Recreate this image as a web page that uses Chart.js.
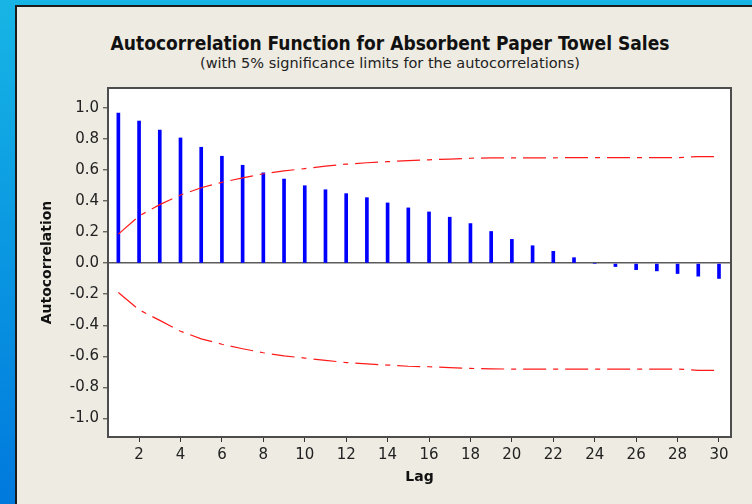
<!DOCTYPE html>
<html>
<head>
<meta charset="utf-8">
<title>Autocorrelation Function for Absorbent Paper Towel Sales</title>
<script src="https://cdn.jsdelivr.net/npm/chart.js@4.4.1/dist/chart.umd.min.js"></script>
<style>
  html, body { margin: 0; padding: 0; }
  #wrap {
    position: relative; width: 752px; height: 504px; overflow: hidden;
    background: linear-gradient(180deg, #17b5e5 0%, #0b9ae2 45%, #0079dd 100%);
  }
  #panel {
    position: absolute; left: 15px; top: 5px; right: 0; bottom: 0;
    background: #eeebe2; border-left: 2px solid #1c1c1c; border-top: 2px solid #1c1c1c;
  }
  .ttl {
    position: absolute; left: 0; width: 780px; text-align: center; color: #111;
    white-space: nowrap;
  }
  #title {
    top: 31px; font-size: 19px; line-height: 24px; font-weight: bold;
    font-family: "DejaVu Sans Condensed", "DejaVu Sans", sans-serif;
  }
  #subtitle {
    top: 55px; font-size: 14.5px; line-height: 17px; color: #222;
    font-family: "DejaVu Sans", sans-serif;
  }
  #c { position: absolute; left: 0; top: 0; }
</style>
</head>
<body>
<div id="wrap">
  <div id="panel"></div>
  <div id="title" class="ttl">Autocorrelation Function for Absorbent Paper Towel Sales</div>
  <div id="subtitle" class="ttl">(with 5% significance limits for the autocorrelations)</div>
  <canvas id="c" width="752" height="504"></canvas>
</div>
<script>
// lags and autocorrelations
const lags = [1, 2, 3, 4, 5, 6, 7, 8, 9, 10, 11, 12, 13, 14, 15,
              16, 17, 18, 19, 20, 21, 22, 23, 24, 25, 26, 27, 28, 29, 30];
const acf = [0.968, 0.917, 0.859, 0.808, 0.748, 0.690, 0.632, 0.583, 0.543, 0.500,
             0.474, 0.449, 0.423, 0.389, 0.357, 0.331, 0.297, 0.256, 0.205, 0.154,
             0.113, 0.077, 0.036, 0.000, -0.021, -0.041, -0.049, -0.066, -0.083, -0.098];
// 5% significance limits
const upperLimit = [0.188, 0.305, 0.378, 0.440, 0.487, 0.522, 0.551, 0.577, 0.596, 0.610,
                    0.626, 0.639, 0.648, 0.655, 0.662, 0.667, 0.672, 0.677, 0.679, 0.680,
                    0.680, 0.680, 0.681, 0.681, 0.681, 0.681, 0.681, 0.681, 0.688, 0.688];
const lowerLimit = [-0.188, -0.300, -0.368, -0.438, -0.487, -0.522, -0.551, -0.577, -0.597, -0.611,
                    -0.626, -0.640, -0.649, -0.656, -0.664, -0.667, -0.673, -0.678, -0.681, -0.682,
                    -0.682, -0.682, -0.682, -0.682, -0.682, -0.682, -0.682, -0.682, -0.690, -0.690];
const xTicks = [2, 4, 6, 8, 10, 12, 14, 16, 18, 20, 22, 24, 26, 28, 30];
const yTicks = [-1.0, -0.8, -0.6, -0.4, -0.2, 0.0, 0.2, 0.4, 0.6, 0.8, 1.0];

const tickFont = { family: "DejaVu Sans", size: 15 };
const axisFont = { family: "DejaVu Sans", size: 14, weight: "bold" };

// white plot area + dark frame round it
const plotFrame = {
  id: "plotFrame",
  beforeDraw(chart) {
    const a = chart.chartArea, ctx = chart.ctx;
    ctx.save();
    ctx.fillStyle = "#ffffff";
    ctx.fillRect(a.left, a.top, a.right - a.left, a.bottom - a.top);
    ctx.restore();
  },
  afterDraw(chart) {
    const a = chart.chartArea, ctx = chart.ctx;
    ctx.save();
    ctx.strokeStyle = "#4d4d4d";
    ctx.lineWidth = 2;
    ctx.strokeRect(a.left, a.top, a.right - a.left, a.bottom - a.top);
    ctx.restore();
  }
};

const limitStyle = {
  type: "line",
  borderColor: "#ff1a1a",
  borderWidth: 1.2,
  borderDash: [23, 7, 5, 7],
  pointRadius: 0,
  fill: false,
  tension: 0
};

new Chart(document.getElementById("c"), {
  type: "bar",
  data: {
    datasets: [
      Object.assign({ label: "Upper limit", data: lags.map((l, i) => ({ x: l, y: upperLimit[i] })) }, limitStyle),
      Object.assign({ label: "Lower limit", data: lags.map((l, i) => ({ x: l, y: lowerLimit[i] })) }, limitStyle),
      {
        label: "Autocorrelation",
        data: lags.map((l, i) => ({ x: l, y: acf[i] })),
        backgroundColor: "#0000ff",
        borderWidth: 0,
        barThickness: 3
      }
    ]
  },
  options: {
    responsive: false,
    animation: false,
    layout: { padding: { left: 20, right: 21, top: 88, bottom: 0 } },
    plugins: { legend: { display: false }, tooltip: { enabled: false } },
    scales: {
      x: {
        type: "linear",
        min: 0.5,
        max: 30.58,
        offset: false,
        afterBuildTicks: (axis) => { axis.ticks = xTicks.map(v => ({ value: v })); },
        afterFit: (scale) => { scale.height = 67; },
        ticks: { font: tickFont, color: "#222", padding: 4, maxRotation: 0, autoSkip: false },
        grid: { offset: false, drawOnChartArea: false, tickLength: 5, tickColor: "#333" },
        border: { display: false },
        title: { display: true, text: "Lag", font: axisFont, color: "#111", padding: { top: 0, bottom: 18.6 } }
      },
      y: {
        min: -1.12,
        max: 1.13,
        afterBuildTicks: (axis) => { axis.ticks = yTicks.map(v => ({ value: v })); },
        afterFit: (scale) => { scale.width = 88; },
        ticks: { font: tickFont, color: "#222", padding: 4, callback: (v) => v.toFixed(1) },
        grid: {
          color: (ctx) => (ctx.tick && ctx.tick.value === 0 ? "#5a5a5a" : "rgba(0,0,0,0)"),
          lineWidth: 1.6,
          tickLength: 5,
          tickColor: "#333",
          tickWidth: 1
        },
        border: { display: false },
        title: { display: true, text: "Autocorrelation", font: axisFont, color: "#111", padding: { top: 18.6, bottom: 0 } }
      }
    }
  },
  plugins: [plotFrame]
});
</script>
</body>
</html>
